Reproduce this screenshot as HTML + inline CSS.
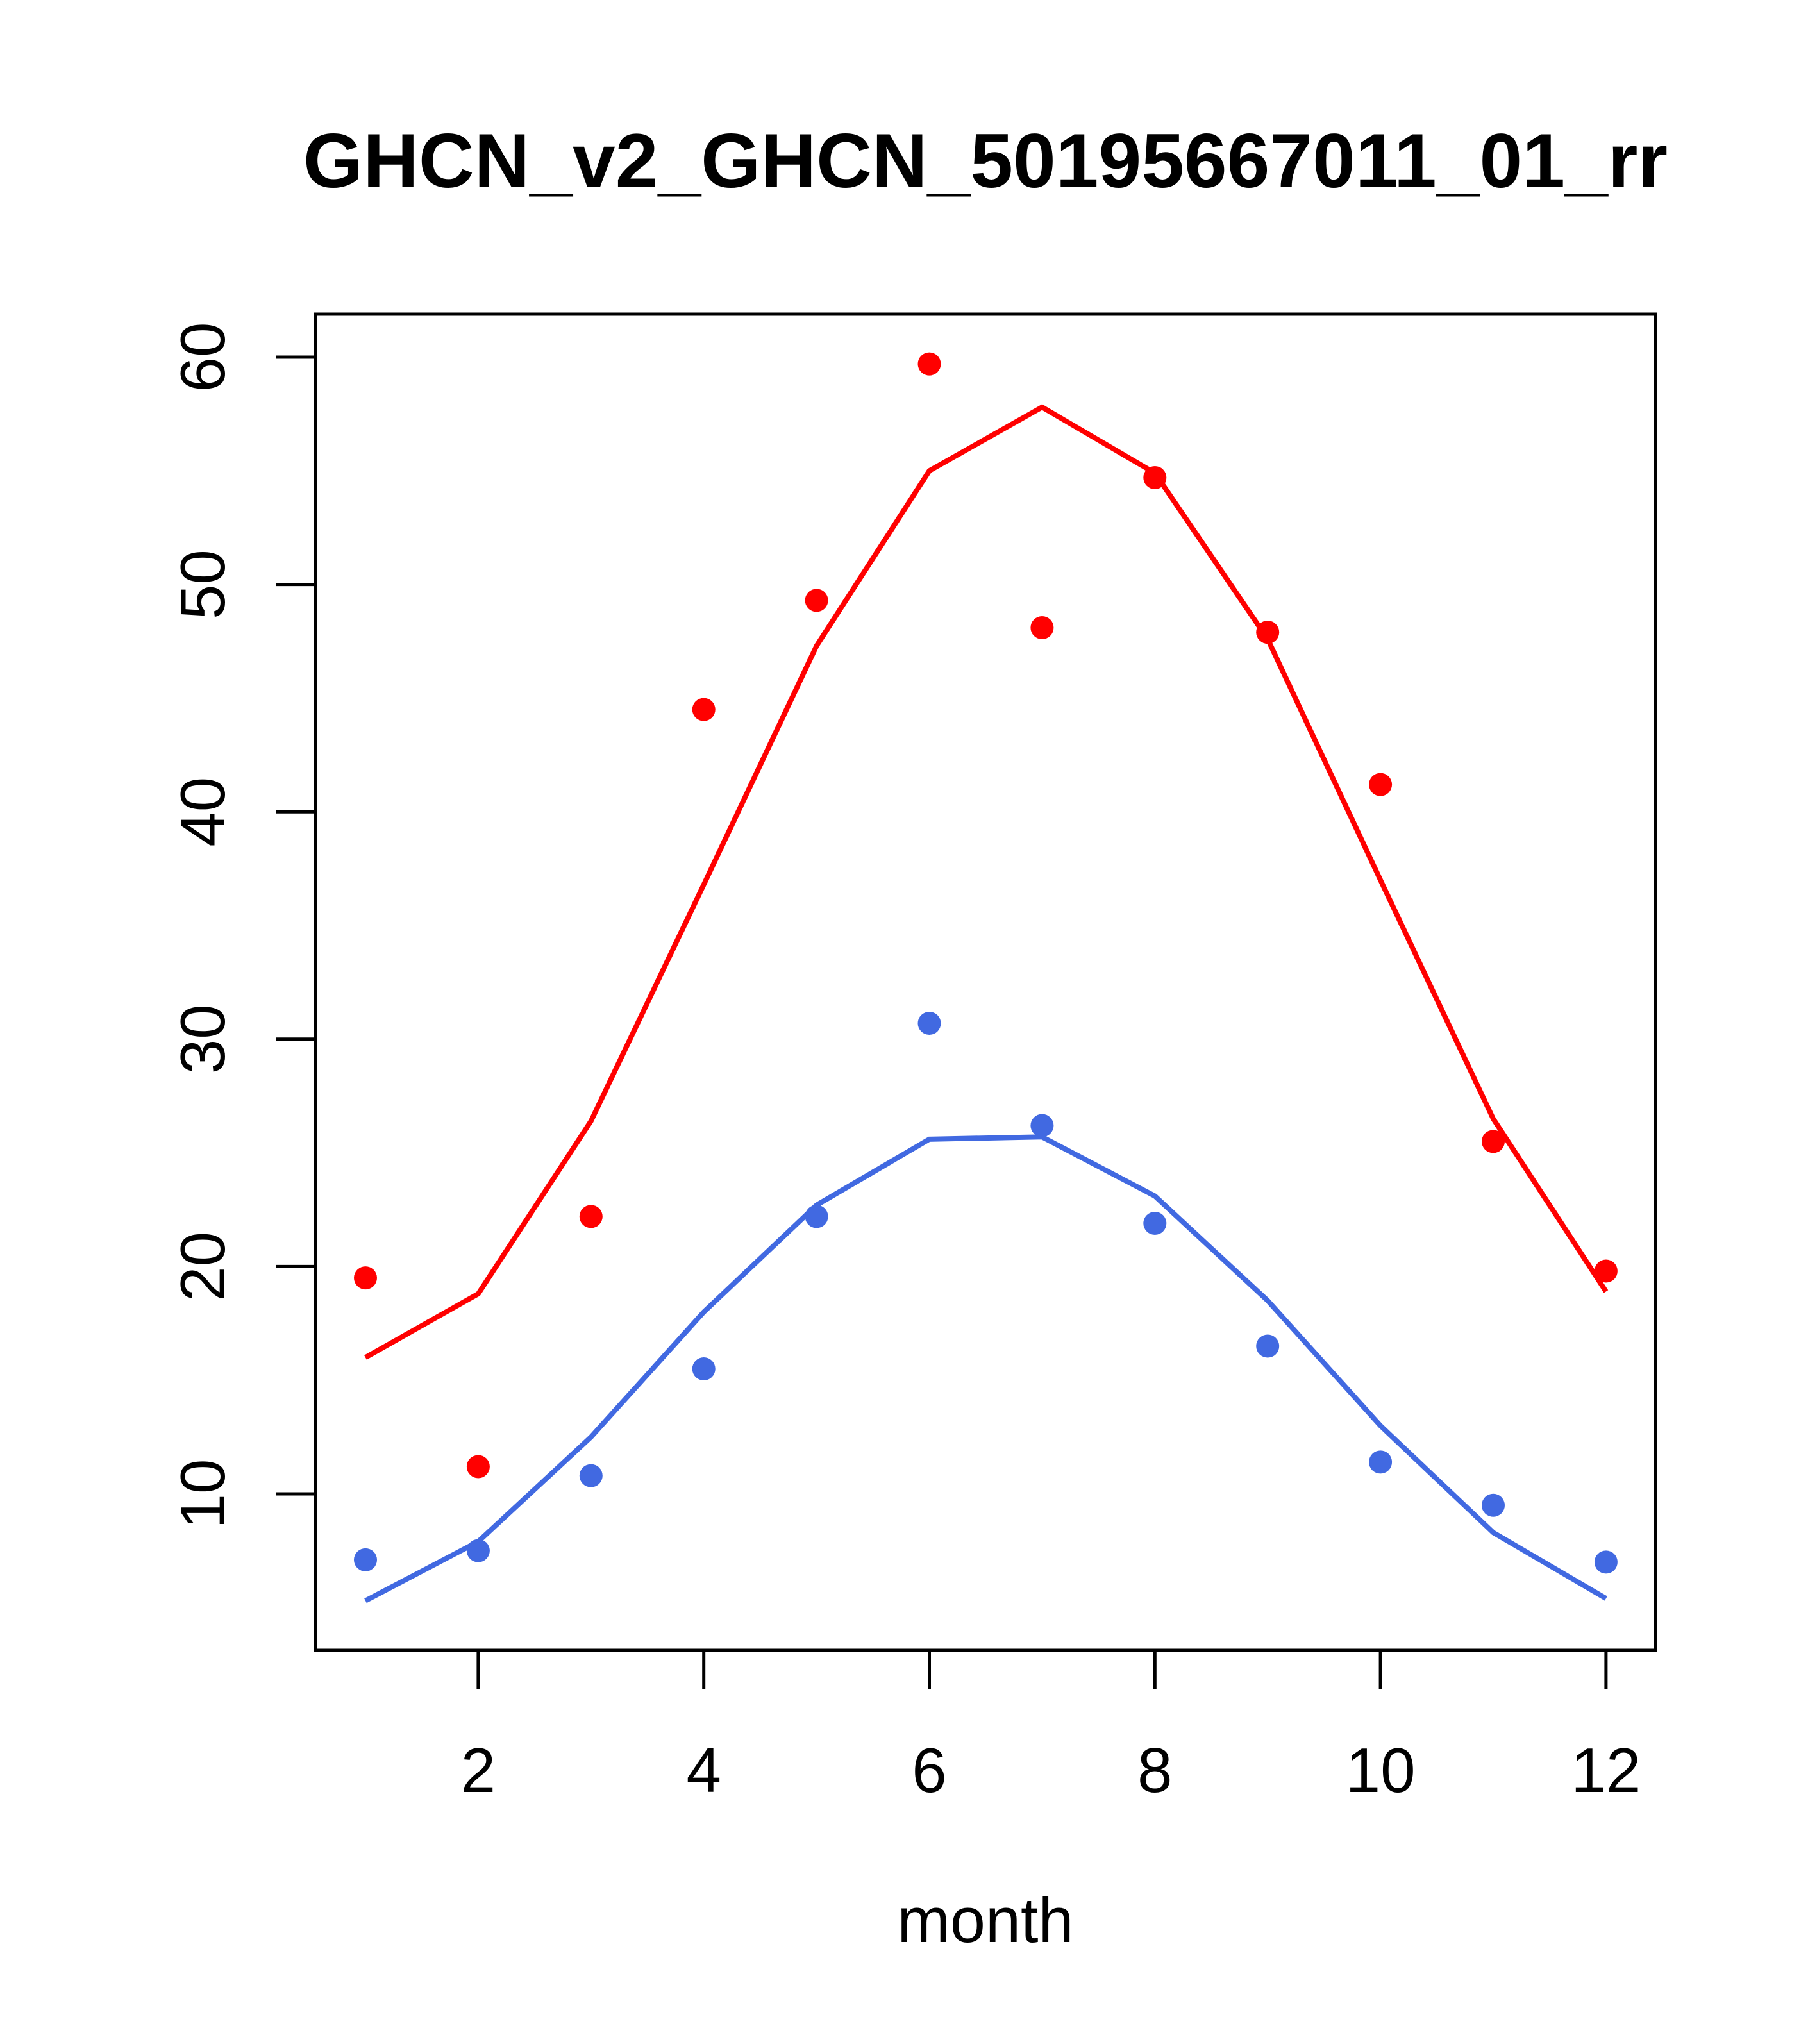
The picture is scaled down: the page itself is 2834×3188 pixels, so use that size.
<!DOCTYPE html>
<html><head><meta charset="utf-8"><style>html,body{margin:0;padding:0;background:#fff}svg{display:block}</style></head>
<body>
<svg id="chart" width="2834" height="3188" xmlns="http://www.w3.org/2000/svg" font-family="Liberation Sans, Arial, sans-serif">
<rect width="2834" height="3188" fill="#fff"/>
<text x="1537" y="292" font-size="120" font-weight="bold" text-anchor="middle">GHCN_v2_GHCN_50195667011_01_rr</text>
<text x="1537" y="3029" font-size="99" text-anchor="middle">month</text>
<rect x="492" y="490" width="2090" height="2084" fill="none" stroke="#000" stroke-width="5"/>
<g id="axes"></g><g id="series"></g>
</svg>
<script>
const months=[1,2,3,4,5,6,7,8,9,10,11,12];
const redPoints=[19.5,11.2,22.2,44.5,49.3,59.7,48.1,54.7,47.9,41.2,25.5,19.8];
const redLine=[16.0,18.8,26.4,36.8,47.3,55.0,57.8,54.9,47.6,37.0,26.5,18.9];
const bluePoints=[7.1,7.5,10.8,15.5,22.2,30.7,26.2,21.9,16.5,11.4,9.5,7.0];
const blueLine=[5.3,7.9,12.5,18.0,22.7,25.6,25.7,23.1,18.5,13.0,8.3,5.4];
const xTicks=[2,4,6,8,10,12];
const yTicks=[10,20,30,40,50,60];
const NS="http://www.w3.org/2000/svg";
function xs(m){return 570+(m-1)*175.9;}
function ys(v){return 2330-(v-10)*35.46;}
function mk(t,a,p){const e=document.createElementNS(NS,t);for(const k in a)e.setAttribute(k,a[k]);p.appendChild(e);return e;}
const ax=document.getElementById('axes'),se=document.getElementById('series');
xTicks.forEach(t=>{
 const l=mk('line',{x1:xs(t),x2:xs(t),y1:2574,y2:2635,stroke:'#000','stroke-width':5},ax);
 
 
 const tx=mk('text',{x:xs(t),y:2795,'font-size':98,'text-anchor':'middle'},ax);tx.textContent=t;
 
 
});
yTicks.forEach(t=>{
 const l=mk('line',{x1:431,x2:492,y1:ys(t),y2:ys(t),stroke:'#000','stroke-width':5},ax);
 
 
 const tx=mk('text',{x:0,y:0,'font-size':98,'text-anchor':'middle',transform:`translate(350,${ys(t)}) rotate(-90)`},ax);tx.textContent=t;
 
 
});
function line(vals,col,name){
 const p=mk('polyline',{points:vals.map((v,i)=>xs(months[i])+','+ys(v)).join(' '),fill:'none',stroke:col,'stroke-width':8},se);
 
 
}
function pts(vals,col,name){
 vals.forEach((v,i)=>{
  const c=mk('circle',{cx:xs(months[i]),cy:ys(v),r:18,fill:col},se);
  
  
 });
}
line(redLine,'#ff0000','red-line');
line(blueLine,'#4169e1','blue-line');
pts(redPoints,'#ff0000','red-point');
pts(bluePoints,'#4169e1','blue-point');
</script>
</body></html>
